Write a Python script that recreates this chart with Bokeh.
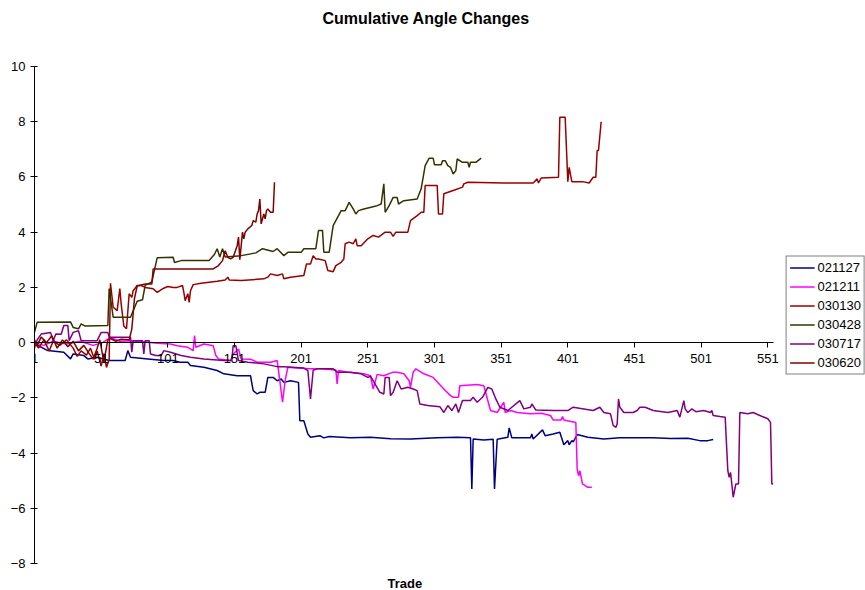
from bokeh.plotting import figure
from bokeh.models import Range1d, FixedTicker, Legend, LegendItem, Title
from bokeh.embed import file_html
from bokeh.resources import INLINE

title_text = "Cumulative Angle Changes"
x_title = "Trade"
x_ticks = [1, 51, 101, 151, 201, 251, 301, 351, 401, 451, 501, 551]
y_ticks = [-8, -6, -4, -2, 0, 2, 4, 6, 8, 10]

series_names = ["021127", "021211", "030130", "030428", "030717", "030620"]
series_colors = ["#000080", "#FF00FF", "#990000", "#333300", "#800080", "#800000"]

s021127_x = [1, 11, 23, 28, 30, 38, 41, 48, 57, 69, 71, 73, 86, 98, 105, 110, 116, 118, 128, 138,
             143, 153, 163, 165, 168, 170, 174, 176, 180, 183, 186, 188, 193, 199, 200, 203, 206,
             208, 215, 218, 222, 238, 253, 268, 283, 303, 318, 328, 329, 330, 338, 345, 346, 348,
             356, 357, 359, 373, 374, 375, 382, 384, 390, 395, 398, 401, 402, 404, 405, 408, 416,
             428, 440, 465, 478, 491, 500, 506, 510]
s021127_y = [-0.04, -0.29, -0.35, -0.59, -0.41, -0.47, -0.59, -0.53, -0.65, -0.65, -0.29, -0.53,
             -0.59, -0.65, -0.65, -0.71, -0.71, -0.83, -0.89, -1.01, -1.13, -1.2, -1.2, -1.74,
             -1.86, -1.8, -1.8, -1.26, -1.26, -1.38, -1.32, -1.44, -1.38, -1.44, -2.83, -2.83,
             -3.31, -3.43, -3.37, -3.45, -3.4, -3.45, -3.43, -3.48, -3.49, -3.45, -3.43, -3.45,
             -5.3, -3.49, -3.53, -3.5, -5.3, -3.5, -3.43, -3.09, -3.45, -3.45, -3.31, -3.49,
             -3.16, -3.37, -3.31, -3.25, -3.7, -3.55, -3.7, -3.55, -3.6, -3.33, -3.43, -3.49,
             -3.45, -3.45, -3.47, -3.46, -3.55, -3.55, -3.51]

s021211_x = [1, 8, 15, 25, 35, 45, 52, 58, 65, 73, 86, 93, 103, 108, 116, 120, 121, 122, 128, 135,
             137, 139, 148, 150, 154, 156, 163, 168, 178, 183, 185, 187, 189, 191, 198, 208, 216,
             227, 228, 229, 236, 248, 253, 255, 258, 263, 270, 273, 278, 282, 283, 285, 287, 293,
             300, 308, 313, 315, 319, 320, 333, 338, 343, 348, 353, 354, 358, 363, 373, 381, 388,
             390, 396, 397, 398, 407, 408, 409, 410, 412, 416, 419]
s021211_y = [0.0, -0.1, 0.05, -0.05, 0.05, -0.1, 0.0, 0.19, 0.05, 0.07, 0.01, -0.02, -0.05, -0.11,
             -0.17, -0.29, 0.25, -0.17, -0.05, -0.11, -0.47, -0.59, -0.65, -0.41, -0.23, -0.59,
             -0.6, -0.71, -0.71, -0.65, -1.38, -2.16, -1.38, -0.89, -0.92, -0.95, -0.95, -0.99,
             -1.5, -1.01, -1.07, -1.13, -1.2, -1.68, -1.15, -1.2, -1.07, -1.07, -1.13, -1.38,
             -1.62, -1.07, -0.95, -1.13, -1.26, -1.68, -1.92, -1.98, -1.98, -1.56, -1.52, -1.56,
             -2.46, -2.53, -2.16, -2.53, -2.46, -2.53, -2.58, -2.56, -2.64, -2.8, -2.8, -2.68,
             -2.8, -2.89, -4.58, -4.82, -4.64, -5.12, -5.24, -5.24]

s030130_x = [1, 4, 8, 12, 15, 20, 25, 30, 33, 36, 40, 43, 46, 48, 51, 53, 55, 57, 58, 60, 63, 65,
             66, 68, 70, 72, 74, 75, 78, 81, 84, 90, 93, 97, 101, 105, 108, 112, 113, 114, 116,
             117, 118, 120, 126, 138, 144, 146, 147, 156, 173, 176, 178, 183, 187, 188, 193, 203,
             205, 208, 210, 212, 214, 219, 221, 225, 227, 231, 233, 234, 237, 240, 242, 243, 246,
             251, 255, 259, 264, 268, 270, 272, 281, 283, 288, 291, 293, 294, 303, 304, 307, 308,
             315, 322, 323, 326, 353, 375, 378, 379, 381, 394, 395, 399, 401, 402, 404, 412, 417,
             420, 422, 423, 424, 426]
s030130_y = [0.0, -0.2, 0.1, -0.3, 0.05, -0.1, 0.1, -0.2, -0.5, -0.3, -0.45, -0.2, -0.6, -0.3,
             -0.85, -0.4, -0.9, -0.6, 2.15, 1.28, 1.16, 1.96, 1.4, 0.6, 0.5, 1.77, 1.64, 1.88,
             2.07, 2.07, 2.0, 1.95, 1.82, 1.95, 2.03, 2.0, 2.0, 2.07, 1.82, 1.52, 1.77, 1.46, 1.88,
             2.1, 2.15, 2.22, 2.27, 2.37, 2.27, 2.25, 2.31, 2.37, 2.49, 2.43, 2.49, 2.31, 2.37,
             2.43, 2.85, 2.85, 3.15, 3.03, 3.03, 2.97, 2.61, 2.57, 2.79, 2.91, 3.03, 3.58, 3.64,
             3.58, 3.76, 3.51, 3.51, 3.76, 3.88, 3.82, 4.0, 4.0, 3.85, 4.0, 4.0, 4.42, 4.6, 4.72,
             4.72, 5.69, 5.69, 4.66, 4.66, 5.39, 5.51, 5.63, 5.75, 5.81, 5.78, 5.78, 5.93, 5.78,
             5.96, 5.99, 8.16, 8.16, 5.83, 6.35, 5.83, 5.83, 5.78, 5.99, 5.99, 6.96, 6.96, 8.0]

s030428_x = [1, 3, 28, 30, 34, 36, 39, 56, 57, 60, 73, 78, 82, 84, 89, 93, 105, 106, 111, 132, 136,
             138, 140, 142, 144, 156, 167, 172, 180, 183, 188, 191, 201, 203, 212, 214, 217, 218,
             222, 225, 227, 231, 234, 237, 240, 242, 244, 248, 258, 261, 263, 264, 267, 270, 273,
             274, 278, 288, 291, 294, 297, 300, 301, 306, 307, 309, 311, 313, 315, 317, 318, 322,
             326, 327, 328, 332, 336]
s030428_y = [0.37, 0.74, 0.75, 0.55, 0.5, 0.68, 0.6, 0.62, 1.96, 0.92, 0.92, 1.5, 1.55, 2.07, 2.2,
             3.07, 3.09, 2.9, 2.97, 2.97, 3.2, 3.4, 3.1, 3.4, 3.1, 3.15, 3.25, 3.4, 3.3, 3.4, 3.15,
             3.27, 3.27, 3.4, 3.4, 4.06, 4.06, 3.27, 3.27, 4.24, 4.42, 4.78, 4.78, 5.08, 4.84,
             4.66, 4.78, 4.84, 4.96, 5.02, 5.75, 4.72, 4.96, 5.26, 5.26, 5.02, 5.14, 5.2, 5.57,
             6.41, 6.68, 6.68, 6.44, 6.44, 6.59, 6.59, 6.41, 6.35, 6.11, 6.23, 6.65, 6.53, 6.53,
             6.35, 6.53, 6.53, 6.68]

s030717_x = [1, 3, 6, 13, 15, 17, 21, 23, 26, 27, 30, 34, 36, 48, 51, 56, 57, 73, 74, 75, 82, 83,
             84, 87, 88, 92, 96, 98, 103, 111, 118, 128, 143, 149, 150, 152, 154, 161, 173, 183,
             188, 203, 206, 208, 210, 213, 225, 228, 238, 246, 251, 253, 255, 260, 263, 264, 267,
             268, 270, 273, 276, 281, 285, 288, 290, 296, 305, 308, 311, 314, 317, 319, 322, 328,
             330, 333, 337, 341, 344, 347, 350, 356, 365, 368, 373, 374, 377, 390, 401, 405, 420,
             425, 428, 433, 435, 437, 438, 439, 440, 443, 450, 453, 455, 459, 465, 476, 483, 484,
             485, 488, 489, 491, 494, 497, 503, 508, 509, 510, 515, 519, 521, 522, 523, 524, 525,
             527, 529, 530, 536, 540, 545, 551, 553, 554, 555]
s030717_y = [-0.2, 0.1, 0.31, 0.37, 0.07, 0.31, 0.3, 0.62, 0.62, 0.07, 0.37, 0.43, 0.07, 0.07,
             0.37, 0.37, 0.19, 0.19, -0.35, 0.07, 0.07, -0.41, 0.07, 0.07, -0.41, -0.47, -0.47,
             -0.29, -0.35, -0.47, -0.53, -0.59, -0.65, -0.65, -0.11, -0.11, -0.65, -0.71, -0.77,
             -0.87, -0.87, -0.92, -1.01, -2.04, -1.0, -0.95, -0.95, -1.07, -1.07, -1.13, -1.26,
             -1.22, -1.38, -1.8, -1.86, -1.26, -1.26, -1.92, -1.8, -1.38, -1.68, -1.62, -1.68,
             -1.74, -2.22, -2.28, -2.32, -2.53, -2.28, -2.46, -2.22, -2.53, -2.1, -2.1, -1.98,
             -2.16, -1.98, -1.62, -1.68, -2.04, -2.34, -2.46, -2.1, -2.4, -2.34, -2.22, -2.44,
             -2.46, -2.46, -2.34, -2.46, -2.34, -2.53, -2.58, -3.0, -3.07, -2.95, -2.04, -2.34,
             -2.53, -2.53, -2.46, -2.34, -2.34, -2.46, -2.53, -2.46, -2.58, -2.7, -2.1, -2.4,
             -2.53, -2.4, -2.5, -2.46, -2.53, -2.46, -2.64, -2.68, -2.7, -4.64, -4.88, -4.7,
             -5.12, -5.6, -5.12, -5.12, -2.53, -2.58, -2.53, -2.64, -2.76, -2.89, -5.12, -5.12]

s030620_x = [1, 3, 6, 10, 14, 18, 22, 26, 30, 34, 38, 42, 45, 48, 50, 53, 56, 58, 62, 66, 72, 74,
             76, 78, 84, 89, 90, 135, 139, 142, 144, 146, 148, 150, 153, 154, 155, 157, 158, 159,
             161, 164, 165, 167, 168, 169, 170, 171, 173, 174, 175, 176, 178, 180, 181]
s030620_y = [0.1, -0.1, 0.2, 0.0, 0.25, -0.2, 0.1, -0.15, 0.05, -0.3, -0.1, -0.4, -0.6, -0.2,
             0.1, -0.7, 0.1, 0.15, 0.05, 0.12, 0.1, 0.5, 1.6, 2.05, 2.12, 2.12, 2.67, 2.67, 2.79,
             2.97, 3.33, 3.09, 3.03, 3.09, 3.51, 3.82, 3.0, 4.0, 3.76, 4.0, 4.12, 4.24, 4.42, 4.36,
             4.66, 4.78, 5.2, 4.3, 4.66, 4.48, 4.78, 4.84, 4.72, 4.72, 5.81]

series_x = [s021127_x, s021211_x, s030130_x, s030428_x, s030717_x, s030620_x]
series_y = [s021127_y, s021211_y, s030130_y, s030428_y, s030717_y, s030620_y]

x_axis_span = (1, 555.25)   # category axis extent
x_view_end = 624.25         # leaves room on the right for the legend

FONT = "Liberation Sans"

p = figure(width=865, height=590, output_backend="svg", toolbar_location=None,
           x_range=Range1d(x_axis_span[0], x_view_end), y_range=Range1d(-8, 10),
           min_border_left=34, min_border_right=0, min_border_top=66, min_border_bottom=27,
           background_fill_color="white", border_fill_color="white")
p.grid.visible = False
p.outline_line_color = None

p.title.text = title_text
p.title.align = "left"
p.title.offset = 288
p.title.vertical_align = "bottom"
p.title.text_font = FONT
p.title.text_font_size = "16px"
p.title.text_font_style = "bold"
p.title.text_color = "black"
p.title.standoff = 10

# spacer between title and plot frame
p.add_layout(Title(text=" ", text_font_size="1px", standoff=32), "above")

p.xaxis.fixed_location = 0
p.xaxis.bounds = x_axis_span
p.xaxis.ticker = FixedTicker(ticks=x_ticks)
p.xaxis.major_tick_out = 5
p.xaxis.major_tick_in = 0
p.xaxis.minor_tick_line_color = None
p.xaxis.major_label_standoff = 6

p.yaxis.ticker = FixedTicker(ticks=y_ticks)
p.yaxis.major_tick_out = 4
p.yaxis.major_tick_in = 3
p.yaxis.minor_tick_line_color = None
p.yaxis.major_label_standoff = 5

for ax in (p.xaxis, p.yaxis):
    ax.axis_line_color = "black"
    ax.major_tick_line_color = "black"
    ax.major_label_text_font = FONT
    ax.major_label_text_font_size = "13px"
    ax.major_label_text_color = "black"

p.add_layout(Title(text=" ", text_font_size="1px", standoff=7), "below")
p.add_layout(Title(text=x_title, align="left", offset=353, text_font=FONT, text_font_size="13px",
                   text_font_style="bold", text_color="black", standoff=0), "below")

items = []
for name, color, xs, ys in zip(series_names, series_colors, series_x, series_y):
    r = p.line(xs, ys, line_color=color, line_width=1.5)
    items.append(LegendItem(label=name, renderers=[r]))

legend = Legend(items=items, location="right", border_line_color="black",
                border_line_width=1, background_fill_color="white", background_fill_alpha=1,
                padding=3, spacing=3, margin=0, glyph_width=25, glyph_height=16,
                label_height=16, label_standoff=3, label_text_font=FONT,
                label_text_font_size="13px", label_text_color="black")
p.add_layout(legend)

open("out.html", "w").write(file_html(p, INLINE))
